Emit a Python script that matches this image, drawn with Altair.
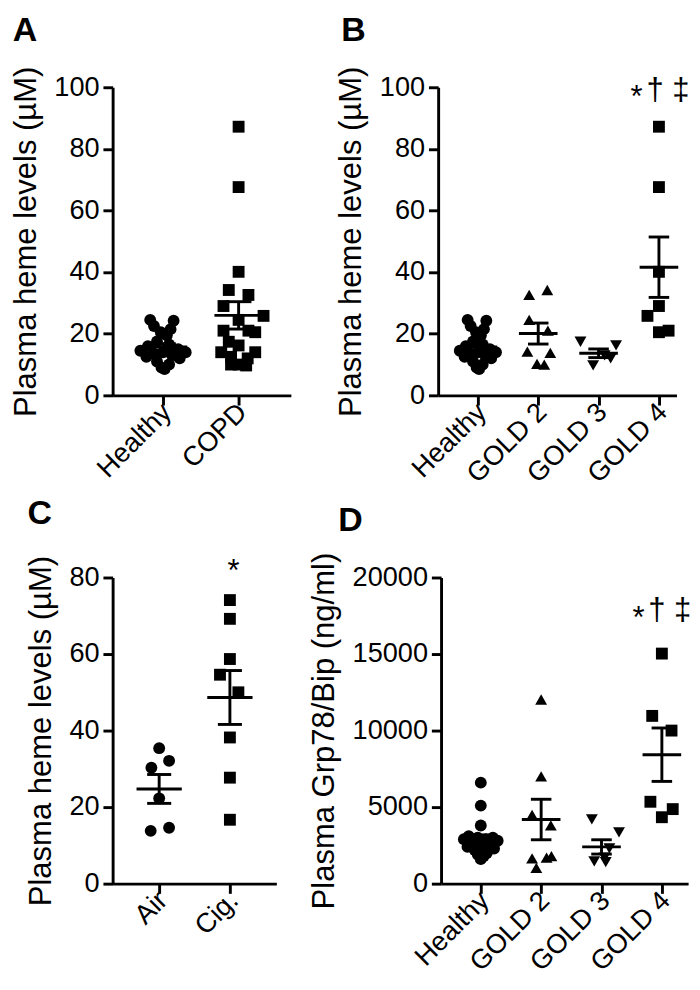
import json
import altair as alt
import pandas as pd

FONT = "Liberation Sans"

# ---------------- data ----------------
# Panel A: plasma heme (uM), healthy vs COPD
a_groups = ["Healthy", "COPD"]
healthy_heme = [24.5, 24.2, 22.5, 21.5, 20.5, 19.5, 17.5, 16.5, 16.0, 15.0, 14.5,
                14.0, 14.0, 13.5, 13.0, 12.5, 12.0, 11.0, 10.0, 9.0, 8.5]
healthy_heme_jit = [-0.17, 0.14, -0.12, 0.10, -0.03, 0.05, -0.08, 0.08, -0.20, 0.20, -0.30,
                    0.30, 0.00, -0.12, 0.12, -0.22, 0.22, -0.08, 0.08, -0.02, 0.02]
copd_heme = [87.2, 67.6, 40.1, 34.2, 32.6, 29.0, 25.8, 24.5, 21.0, 21.0, 20.5,
             17.4, 16.2, 14.0, 14.0, 12.5, 12.0, 10.0, 10.0, 9.7]
copd_heme_jit = [0.0, 0.0, 0.0, -0.13, 0.13, -0.20, 0.33, 0.0, -0.20, 0.13, 0.22,
                 -0.13, 0.0, -0.23, 0.22, -0.10, 0.12, 0.0, -0.10, 0.10]

# Panel B: plasma heme by GOLD stage
b_groups = ["Healthy", "GOLD 2", "GOLD 3", "GOLD 4"]
gold2_heme = [34.2, 32.6, 24.5, 21.0, 14.2, 13.8, 10.2, 10.0]
gold2_heme_jit = [0.15, -0.15, -0.15, 0.16, -0.18, 0.20, -0.02, 0.10]
gold3_heme = [17.4, 16.2, 13.0, 12.0, 9.7]
gold3_heme_jit = [-0.30, 0.29, 0.10, 0.20, -0.09]
gold4_heme = [87.2, 67.6, 40.1, 29.0, 25.8, 21.0, 20.5]
gold4_heme_jit = [0.0, 0.0, 0.0, 0.0, -0.19, 0.16, 0.0]

# Panel C: mice, air vs cigarette smoke
c_groups = ["Air", "Cig."]
air_heme = [35.4, 32.1, 30.3, 22.3, 14.6, 13.8]
air_heme_jit = [0.0, 0.14, -0.11, 0.0, 0.14, -0.12]
cig_heme = [74.1, 69.2, 58.7, 54.6, 50.0, 38.2, 27.7, 16.7]
cig_heme_jit = [0.0, 0.0, 0.0, -0.14, 0.12, 0.0, 0.0, 0.0]

# Panel D: plasma Grp78/Bip (ng/ml)
d_groups = ["Healthy", "GOLD 2", "GOLD 3", "GOLD 4"]
healthy_grp = [6600, 5100, 3800, 3100, 3000, 3000, 2900, 2900, 2800, 2700,
               2600, 2500, 2400, 2300, 2200, 2000, 1900, 1800, 1600]
healthy_grp_jit = [0.0, 0.0, 0.0, -0.20, 0.20, -0.05, 0.08, -0.28, 0.28, -0.14,
                   0.15, 0.0, -0.22, 0.22, -0.10, 0.10, -0.05, 0.05, 0.0]
gold2_grp = [12030, 7010, 4490, 3810, 1800, 1700, 1650, 1030]
gold2_grp_jit = [0.0, 0.0, -0.15, 0.16, 0.17, 0.09, -0.15, -0.08]
gold3_grp = [4200, 3350, 2300, 1700, 1450, 1400]
gold3_grp_jit = [-0.16, 0.29, 0.13, 0.05, -0.12, 0.07]
gold4_grp = [15030, 10960, 10000, 5350, 4870, 4340]
gold4_grp_jit = [0.0, -0.16, 0.16, -0.19, 0.18, 0.0]

heme_ticks = [0, 20, 40, 60, 80, 100]
heme_ticks_c = [0, 20, 40, 60, 80]
grp_ticks = [0, 5000, 10000, 15000, 20000]

# significance marks: (x in group units, y in data units, text)
b_marks_x = [3.63, 4.15]
b_marks_y = [93.5, 96.0]
b_marks_t = ["*", "\u2020 \u2021"]
c_marks_x = [2.05]
c_marks_y = [79.0]
c_marks_t = ["*"]
d_marks_x = [3.615, 4.13]
d_marks_y = [16700, 17250]
d_marks_t = ["*", "\u2020 \u2021"]

SHAPE_NAMES = ["Healthy", "COPD", "GOLD 2", "GOLD 3", "GOLD 4", "Air", "Cig."]
SHAPE_MARKS = ["circle", "square", "triangle-up", "triangle-down", "square", "circle", "square"]


def panel(groups, series, ytitle, ydom, yticks, width, height, xdom, letter, letter_xy,
          marks_x, marks_y, marks_t, label_size=28, title_pad=12):
    rows = []
    for gi, (name, vals, jit) in enumerate(series, start=1):
        for v, j in zip(vals, jit):
            rows.append({"g": gi, "grp": name, "v": v, "j": j})
    df = pd.DataFrame(rows)

    label_expr = json.dumps([""] + groups) + "[datum.value]"
    xscale = alt.Scale(domain=xdom, nice=False, zero=False)
    yscale = alt.Scale(domain=ydom, nice=False, zero=True)
    xaxis = alt.Axis(values=list(range(1, len(groups) + 1)), labelExpr=label_expr,
                     title=None, labelAngle=315, labelAlign="right", labelBaseline="middle",
                     labelFlush=False, labelOverlap=False, labelPadding=3, labelOffset=4,
                     labelFontSize=label_size)
    yaxis = alt.Axis(values=yticks, format="d", title=ytitle, labelFlush=False,
                     labelOverlap=False, labelFontSize=label_size, titlePadding=title_pad)

    def X(f):
        return alt.X(f, scale=xscale, axis=xaxis)

    def Y(f):
        return alt.Y(f, scale=yscale, axis=yaxis)

    pts = (alt.Chart(df)
           .transform_calculate(xp="datum.g + datum.j")
           .mark_point(filled=True, opacity=1, color="black", size=150, strokeWidth=0)
           .encode(x=X("xp:Q"), y=Y("v:Q"),
                   shape=alt.Shape("grp:N", legend=None,
                                   scale=alt.Scale(domain=SHAPE_NAMES, range=SHAPE_MARKS))))

    stats = (alt.Chart(df)
             .transform_aggregate(m="mean(v)", s="stderr(v)", groupby=["g"])
             .transform_calculate(lo="datum.m - datum.s", hi="datum.m + datum.s",
                                  a1="datum.g - 0.32", a2="datum.g + 0.32",
                                  c1="datum.g - 0.17", c2="datum.g + 0.17"))
    rule = dict(color="black", strokeWidth=3)
    mean_line = stats.mark_rule(**rule).encode(x=X("a1:Q"), x2="a2:Q", y=Y("m:Q"))
    vbar = stats.mark_rule(**rule).encode(x=X("g:Q"), y=Y("lo:Q"), y2="hi:Q")
    cap_lo = stats.mark_rule(**rule).encode(x=X("c1:Q"), x2="c2:Q", y=Y("lo:Q"))
    cap_hi = stats.mark_rule(**rule).encode(x=X("c1:Q"), x2="c2:Q", y=Y("hi:Q"))

    layers = [pts, mean_line, vbar, cap_lo, cap_hi]
    if marks_t:
        ann = (alt.Chart(pd.DataFrame({"x": marks_x, "y": marks_y, "t": marks_t}))
               .mark_text(font=FONT, fontSize=32, color="black", align="center",
                          baseline="alphabetic")
               .encode(x=X("x:Q"), y=Y("y:Q"), text="t:N"))
        layers.append(ann)
    let = (alt.Chart(pd.DataFrame({"t": [letter]}))
           .mark_text(font=FONT, fontSize=35, fontWeight="bold", color="black",
                      align="left", baseline="top")
           .encode(x=alt.value(letter_xy[0]), y=alt.value(letter_xy[1]), text="t:N"))
    layers.append(let)
    return alt.layer(*layers).properties(width=width, height=height)


heme_title = "Plasma heme levels (\u00b5M)"
HA = 318
HC = 316

A = panel(a_groups,
          [("Healthy", healthy_heme, healthy_heme_jit), ("COPD", copd_heme, copd_heme_jit)],
          heme_title, [0, 100], heme_ticks, 184, HA, [0.333, 2.692], "A", (-103, -76),
          [], [], [])
B = panel(b_groups,
          [("Healthy", healthy_heme, healthy_heme_jit), ("GOLD 2", gold2_heme, gold2_heme_jit),
           ("GOLD 3", gold3_heme, gold3_heme_jit), ("GOLD 4", gold4_heme, gold4_heme_jit)],
          heme_title, [0, 100], heme_ticks, 246, HA, [0.342, 4.291], "B", (-100, -76),
          b_marks_x, b_marks_y, b_marks_t)
C = panel(c_groups,
          [("Air", air_heme, air_heme_jit), ("Cig.", cig_heme, cig_heme_jit)],
          heme_title, [0, 80], heme_ticks_c, 169, HC, [0.342, 2.657], "C", (-88, -83),
          c_marks_x, c_marks_y, c_marks_t)
D = panel(d_groups,
          [("Healthy", healthy_grp, healthy_grp_jit), ("GOLD 2", gold2_grp, gold2_grp_jit),
           ("GOLD 3", gold3_grp, gold3_grp_jit), ("GOLD 4", gold4_grp, gold4_grp_jit)],
          "Plasma Grp78/Bip (ng/ml)", [0, 20000], grp_ticks, 255, HC, [0.342, 4.435],
          "D", (-106, -76), d_marks_x, d_marks_y, d_marks_t)

row1 = alt.hconcat(A, B, spacing=46)
row2 = alt.hconcat(C, D, spacing=33)

chart = (alt.vconcat(row1, row2, spacing=9)
         .properties(padding={"left": 2, "top": -10, "right": 0, "bottom": 0})
         .configure_view(stroke=None)
         .configure_axis(domainColor="black", domainWidth=3, tickColor="black", tickWidth=3,
                         tickSize=10, labelColor="black", titleColor="black",
                         labelFont=FONT, titleFont=FONT, titleFontSize=32,
                         titleFontWeight="normal", grid=False, labelPadding=4))

chart.save("out.html", embed_options={"renderer": "svg", "actions": False})
